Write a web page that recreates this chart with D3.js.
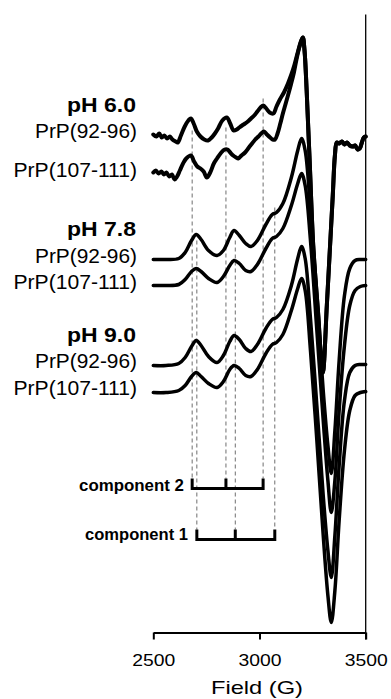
<!DOCTYPE html>
<html>
<meta charset="utf-8">
<script src="https://d3js.org/d3.v7.min.js"></script>
<head>
<style>
body { margin: 0; background: #fff; }
text { font-family: "Liberation Sans", Arial, sans-serif; fill: #000; }
</style>
</head>
<body>
<div id="epr"></div>
<script>

// field grid shared by the pH 7.8 and pH 9.0 spectra (G)
var fieldGrid = [2500, 2560, 2620, 2650, 2680, 2702, 2725, 2760, 2800, 2830, 2860, 2880, 2905, 2935, 2960, 2990,
  3030, 3060, 3080, 3110, 3150, 3180, 3198, 3215, 3240, 3270, 3300, 3322, 3338, 3355, 3375, 3400, 3425, 3450, 3475, 3500];

// derivative signal (a.u.), relative to each spectrum's own baseline
var pH78_92 = [0, 0, 1, 7, 19, 25, 20, 9, 4, 9, 22, 29, 24, 16, 13, 19, 35, 45, 47, 56, 82, 109, 121, 109, 49,
  -41, -131, -186, -214, -171, -101, -36, -9, -1, 0, 0];
var pH78_107 = [0, 0, 1, 6, 14, 17, 14, 7, 3, 9, 20, 25, 22, 15, 14, 21, 37, 47, 49, 57, 80, 102, 112, 100, 45,
  -45, -135, -195, -227, -195, -125, -60, -20, -5, -1, 0];
var pH90_92 = [-1, -1, 1, 7, 18, 24, 19, 8, 2, 9, 23, 29, 25, 16, 13, 20, 36, 45, 47, 55, 79, 106, 118, 106, 46,
  -41, -131, -186, -213, -171, -101, -36, -8, -1, 0, 0];
var pH90_107 = [-1, -1, 1, 6, 15, 19, 15, 8, 4, 10, 22, 26, 23, 16, 15, 22, 38, 47, 49, 57, 81, 103, 113, 101, 41,
  -49, -144, -204, -231, -199, -129, -59, -19, -4, -1, 0];

// pH 6.0 spectra are noisier, read on a finer grid
var field60_92 = [2500, 2515, 2528, 2540, 2552, 2565, 2578, 2590, 2605, 2615, 2630, 2648, 2665, 2677, 2690, 2705,
  2722, 2740, 2758, 2775, 2790, 2805, 2825, 2846, 2862, 2878, 2893, 2905, 2918, 2932, 2945, 2960, 2975, 2990,
  3005, 3018, 3032, 3048, 3065, 3080, 3096, 3115, 3134, 3150, 3165, 3180, 3195, 3204, 3212, 3222, 3237, 3253,
  3275, 3298, 3317, 3331, 3345, 3355, 3364, 3375, 3388, 3400, 3412, 3425, 3438, 3450, 3462, 3472, 3482, 3491, 3500];
var pH60_92 = [2, 0, 3, -1, 1, -2, 0, -3, -5, -6, 1, 10, 16, 18, 13, 5,
  0, -3, -4, -1, 3, 8, 16, 19, 13, 6, 7, 9, 11, 13, 15, 18, 21, 25,
  29, 31, 28, 24, 23, 30, 37, 44, 53, 62, 72, 84, 95, 99, 86, 46, -29, -109,
  -174, -236, -169, -114, -59, -19, -6, -7, -5, -8, -6, -9, -10, -9, -13, -12, -6, -1, 0];

var field60_107 = [2500, 2512, 2525, 2538, 2550, 2562, 2575, 2588, 2600, 2612, 2625, 2640, 2655, 2677, 2692, 2707,
  2722, 2737, 2752, 2768, 2785, 2800, 2820, 2836, 2849, 2862, 2876, 2890, 2900, 2915, 2932, 2950, 2965, 2980,
  2995, 3008, 3021, 3035, 3050, 3062, 3073, 3085, 3098, 3110, 3122, 3134, 3148, 3162, 3176, 3190, 3204, 3212,
  3222, 3237, 3253, 3275, 3298, 3317, 3331, 3345, 3355, 3364, 3375, 3388, 3400, 3412, 3425, 3438, 3450, 3462,
  3472, 3482, 3491, 3500];
var pH60_107 = [0, 2, -1, 1, -2, 0, -4, -2, -7, -4, 2, 9, 14, 17, 11, 6,
  4, 1, -5, 0, 9, 14, 20, 23, 23, 20, 17, 15, 14, 17, 20, 25, 29, 33,
  36, 39, 41, 38, 35, 33, 33, 39, 49, 59, 68, 77, 88, 100, 115, 127, 135, 122,
  82, 7, -73, -138, -200, -133, -78, -23, 17, 30, 29, 31, 28, 30, 27, 26, 27, 23,
  24, 30, 35, 36];

// vertical offsets of the stacked spectra (a.u.)
var offsets = [496, 460, 373, 347, 268, 241];

var groupLabels = ["pH 6.0", "pH 7.8", "pH 9.0"];
var peptideLabels = ["PrP(92-96)", "PrP(107-111)"];

// hyperfine components (G)
var comp2 = [2683, 2842, 3017];
var comp1 = [2705, 2886, 3072];
var comp2Top = [502, 505, 534];
var comp1Top = [392, 392, 425];
var bracketLevel = [144, 93];

var xTicks = [2500, 3000, 3500];

var width = 391, height = 699;

var svg = d3.select("#epr").append("svg")
  .attr("width", width)
  .attr("height", height);

var x = d3.scaleLinear().domain([2500, 3500]).range([153.3, 365.7]);
var y = d3.scaleLinear().domain([0, 618]).range([632.5, 14.5]);

var line = d3.line()
  .x(function(d) { return x(d[0]); })
  .y(function(d) { return y(d[1]); })
  .curve(d3.curveCatmullRom.alpha(0.5));

// dashed guide lines
var dashes = svg.append("g")
  .attr("stroke", "#6e6e6e")
  .attr("stroke-width", 1)
  .attr("stroke-dasharray", "4,3");

comp2.forEach(function(f, i) {
  dashes.append("line")
    .attr("x1", x(f)).attr("x2", x(f))
    .attr("y1", y(comp2Top[i])).attr("y2", y(bracketLevel[0] + 10));
});
comp1.forEach(function(f, i) {
  dashes.append("line")
    .attr("x1", x(f)).attr("x2", x(f))
    .attr("y1", y(comp1Top[i])).attr("y2", y(bracketLevel[1] + 10));
});

// spectra
var spectra = [
  { f: field60_92, v: pH60_92, w: 4 },
  { f: field60_107, v: pH60_107, w: 4 },
  { f: fieldGrid, v: pH78_92, w: 3.5 },
  { f: fieldGrid, v: pH78_107, w: 3.5 },
  { f: fieldGrid, v: pH90_92, w: 3.5 },
  { f: fieldGrid, v: pH90_107, w: 3.5 }
];

spectra.forEach(function(s, i) {
  var pts = s.f.map(function(f, j) { return [f, s.v[j] + offsets[i]]; });
  svg.append("path")
    .attr("d", line(pts))
    .attr("fill", "none")
    .attr("stroke", "#000")
    .attr("stroke-width", s.w)
    .attr("stroke-linejoin", "round")
    .attr("stroke-linecap", "round");
});

// component brackets
[comp2, comp1].forEach(function(c, i) {
  var base = y(bracketLevel[i]), top = y(bracketLevel[i] + 10);
  var d = "M" + x(c[0]) + "," + top + "V" + base + "H" + x(c[2]) + "V" + top +
          "M" + x(c[1]) + "," + top + "V" + base;
  svg.append("path")
    .attr("d", d)
    .attr("fill", "none")
    .attr("stroke", "#000")
    .attr("stroke-width", 3);
});

svg.append("text")
  .attr("x", 184).attr("y", 490.5)
  .attr("text-anchor", "end")
  .style("font-size", "16.5px").style("font-weight", "bold")
  .attr("textLength", 105).attr("lengthAdjust", "spacingAndGlyphs")
  .text("component 2");
svg.append("text")
  .attr("x", 188).attr("y", 540)
  .attr("text-anchor", "end")
  .style("font-size", "16.5px").style("font-weight", "bold")
  .attr("textLength", 103).attr("lengthAdjust", "spacingAndGlyphs")
  .text("component 1");

// left labels
var groupY = [112, 236, 342];
var peptideY = [[138, 177], [263, 289], [368, 395]];
groupLabels.forEach(function(g, i) {
  svg.append("text")
    .attr("x", 136).attr("y", groupY[i])
    .attr("text-anchor", "end")
    .style("font-size", "19.5px").style("font-weight", "bold")
    .attr("textLength", 69).attr("lengthAdjust", "spacingAndGlyphs")
    .text(g);
  peptideLabels.forEach(function(p, j) {
    svg.append("text")
      .attr("x", 137).attr("y", peptideY[i][j])
      .attr("text-anchor", "end")
      .style("font-size", "19.5px")
      .attr("textLength", j == 0 ? 102 : 123.5).attr("lengthAdjust", "spacingAndGlyphs")
      .text(p);
  });
});

// right frame line
svg.append("line")
  .attr("x1", x(3500)).attr("x2", x(3500))
  .attr("y1", y.range()[1]).attr("y2", y.range()[0] + 7)
  .attr("stroke", "#000").attr("stroke-width", 1.3);

// x axis
var xAxis = svg.append("g")
  .attr("transform", "translate(0," + y(0) + ")")
  .call(d3.axisBottom(x).tickValues(xTicks).tickFormat(d3.format("d"))
    .tickSize(7).tickPadding(14).tickSizeOuter(0));
xAxis.select(".domain").attr("stroke", "#000").attr("stroke-width", 2);
xAxis.selectAll(".tick line").attr("stroke", "#000").attr("stroke-width", 2);
xAxis.selectAll(".tick text")
  .attr("fill", "#000")
  .style("font-family", "'Liberation Sans', Arial, sans-serif")
  .style("font-size", "17px")
  .attr("textLength", 43).attr("lengthAdjust", "spacingAndGlyphs");

svg.append("text")
  .attr("x", 257).attr("y", 694)
  .attr("text-anchor", "middle")
  .style("font-size", "19px")
  .attr("textLength", 92).attr("lengthAdjust", "spacingAndGlyphs")
  .text("Field (G)");

</script>
</body>
</html>
